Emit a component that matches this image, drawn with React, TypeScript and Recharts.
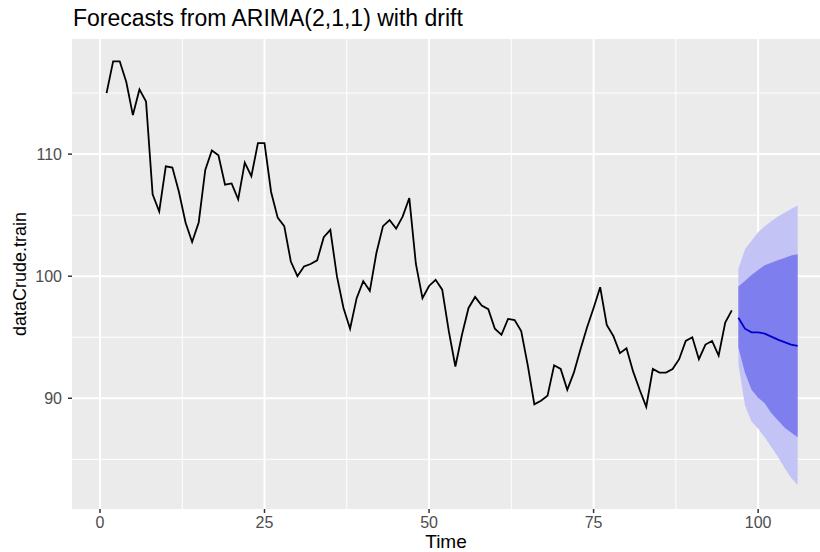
import React from 'react';
import { ComposedChart, Line, Area, XAxis, YAxis, CartesianGrid } from 'recharts';

// observed series, t = 1..96
const actual = [
  115.0, 117.6, 117.6, 115.9, 113.2, 115.3, 114.3, 106.7, 105.3, 109.0,
  108.9, 106.9, 104.4, 102.8, 104.4, 108.7, 110.3, 109.9, 107.5, 107.6,
  106.3, 109.3, 108.2, 110.9, 110.9, 106.9, 104.8, 104.1, 101.2, 100.0,
  100.8, 101.0, 101.3, 103.2, 103.8, 100.0, 97.4, 95.7, 98.2, 99.6,
  98.8, 101.9, 104.1, 104.6, 103.9, 104.9, 106.4, 101.0, 98.2, 99.2,
  99.7, 98.9, 95.5, 92.6, 95.2, 97.4, 98.3, 97.6, 97.3, 95.7,
  95.2, 96.5, 96.4, 95.5, 92.7, 89.5, 89.8, 90.2, 92.7, 92.4,
  90.7, 92.1, 94.0, 95.8, 97.4, 99.1, 96.0, 95.1, 93.7, 94.1,
  92.2, 90.7, 89.3, 92.4, 92.1, 92.1, 92.4, 93.2, 94.7, 95.0,
  93.2, 94.4, 94.7, 93.5, 96.2, 97.2,
];

// forecast, t = 97..106
const fcMean = [96.6, 95.7, 95.4, 95.4, 95.3, 95.05, 94.8, 94.6, 94.4, 94.3];
const hi80 = [99.15, 99.6, 100.1, 100.5, 100.9, 101.1, 101.3, 101.5, 101.7, 101.8];
const lo80 = [94.15, 92.1, 90.7, 90.05, 89.6, 88.8, 88.2, 87.6, 87.2, 86.8];
const hi95 = [100.6, 102.2, 102.9, 103.6, 104.1, 104.5, 104.9, 105.2, 105.5, 105.8];
const lo95 = [92.8, 89.4, 88.1, 87.5, 86.8, 86.0, 85.2, 84.3, 83.5, 82.9];

const xTicks = [0, 25, 50, 75, 100];
const yTicks = [90, 100, 110];
const xMinor = [12.5, 37.5, 62.5, 87.5];
const yMinor = [85, 95, 105, 115];

const data = [
  ...actual.map((v, i) => ({ t: i + 1, actual: v })),
  ...fcMean.map((v, i) => ({
    t: actual.length + i + 1,
    mean: v,
    band80: [lo80[i], hi80[i]],
    band95: [lo95[i], hi95[i]],
  })),
];

const FONT = '"Liberation Sans", Arial, sans-serif';
const tickStyle = { fill: '#4D4D4D', fontSize: 16, fontFamily: FONT };

export default function App() {
  return (
    <div style={{ position: 'relative', width: 820, height: 552, fontFamily: FONT }}>
      <style>{`body { margin: 0; }`}</style>
      <div
        style={{
          position: 'absolute',
          left: 73,
          top: 5,
          fontSize: 23,
          color: '#000',
          whiteSpace: 'nowrap',
        }}
      >
        Forecasts from ARIMA(2,1,1) with drift
      </div>
      <ComposedChart
        width={820}
        height={552}
        data={data}
        margin={{ top: 39, right: 0, bottom: 0, left: 0 }}
      >
        <CartesianGrid
          fill="#EBEBEB"
          stroke="#FFFFFF"
          strokeWidth={1}
          horizontalValues={yMinor}
          verticalValues={xMinor}
        />
        <CartesianGrid
          fill="none"
          stroke="#FFFFFF"
          strokeWidth={2}
          horizontalValues={yTicks}
          verticalValues={xTicks}
        />
        <XAxis
          dataKey="t"
          type="number"
          domain={[-4.25, 109.4]}
          ticks={xTicks}
          allowDataOverflow
          height={43}
          axisLine={false}
          tickLine={{ stroke: '#333333', strokeWidth: 1.5 }}
          tickSize={4}
          tickMargin={4}
          tick={tickStyle}
          label={{
            value: 'Time',
            position: 'insideBottom',
            offset: 4,
            style: { fill: '#000', fontSize: 19, fontFamily: FONT },
          }}
        />
        <YAxis
          type="number"
          domain={[80.93, 119.43]}
          ticks={yTicks}
          allowDataOverflow
          width={72}
          axisLine={false}
          tickLine={{ stroke: '#333333', strokeWidth: 1.5 }}
          tickSize={4}
          tickMargin={6}
          tick={tickStyle}
          label={{
            value: 'dataCrude.train',
            angle: -90,
            position: 'insideLeft',
            offset: 20,
            style: { fill: '#000', fontSize: 18, fontFamily: FONT, textAnchor: 'middle' },
          }}
        />
        <Area
          dataKey="band95"
          type="linear"
          stroke="none"
          fill="#C3C3F5"
          fillOpacity={1}
          isAnimationActive={false}
        />
        <Area
          dataKey="band80"
          type="linear"
          stroke="none"
          fill="#7E7EEE"
          fillOpacity={1}
          isAnimationActive={false}
        />
        <Line
          dataKey="actual"
          type="linear"
          stroke="#000000"
          strokeWidth={1.8}
          dot={false}
          isAnimationActive={false}
        />
        <Line
          dataKey="mean"
          type="linear"
          stroke="#0000CC"
          strokeWidth={1.8}
          dot={false}
          isAnimationActive={false}
        />
      </ComposedChart>
    </div>
  );
}
